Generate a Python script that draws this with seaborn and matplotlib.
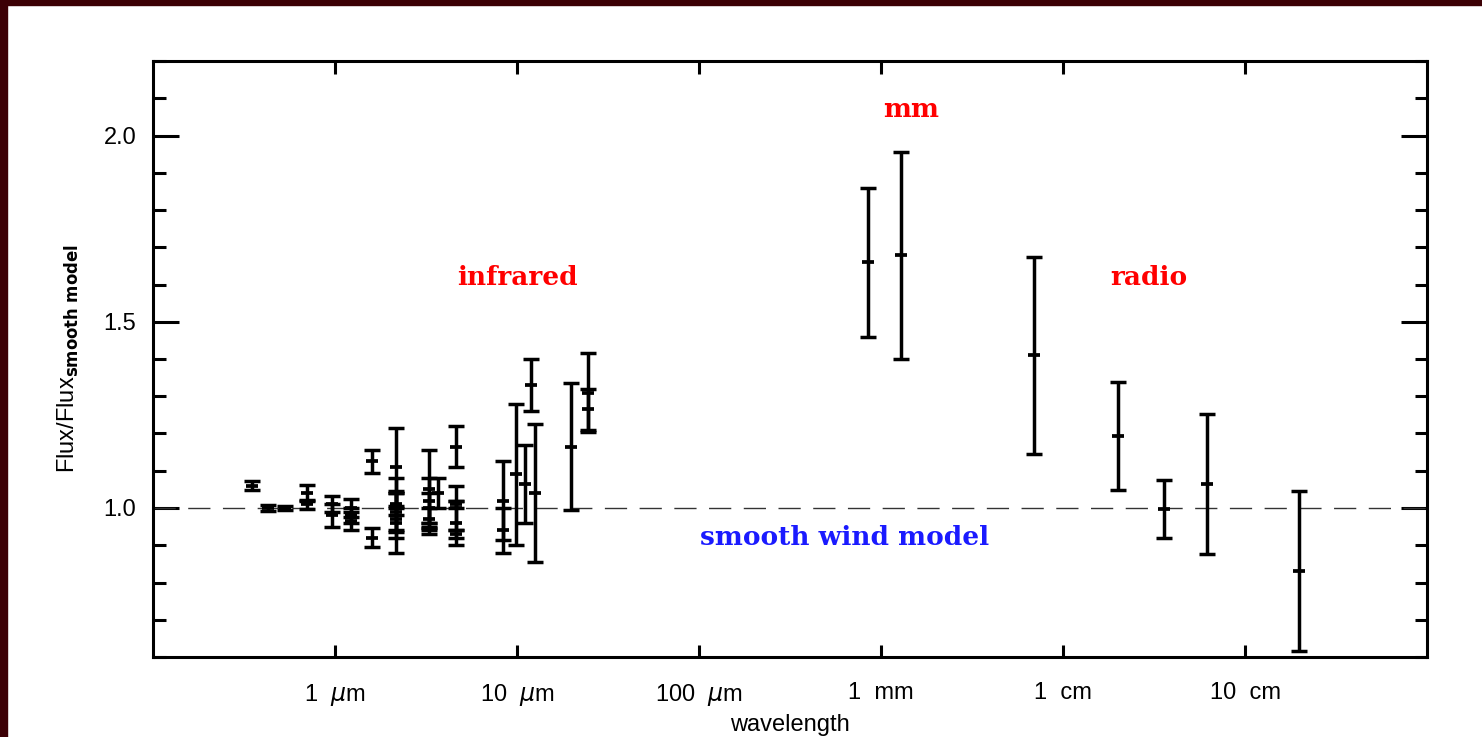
import matplotlib
matplotlib.use('Agg')
import matplotlib.pyplot as plt
import seaborn as sns
import pandas as pd
from matplotlib.patches import Rectangle
from matplotlib.ticker import FixedLocator, MultipleLocator, NullLocator

# wavelength in micron, flux ratio to the smooth wind model, 1-sigma error
wavelength = [0.35, 0.43, 0.53, 0.70, 0.70, 0.96, 0.96, 1.22, 1.22, 1.22,
              1.6, 1.6, 2.17, 2.17, 2.17, 2.17, 2.17, 2.17,
              3.3, 3.3, 3.3, 3.3, 3.3, 3.7,
              4.6, 4.6, 4.6, 4.6, 4.6,
              8.4, 8.4, 9.9, 11.1, 11.9, 12.5, 19.7, 24.7, 24.7,
              850, 1290,
              6900, 20000, 36000, 62000, 198000]
ratio = [1.06, 1.00, 1.00, 1.04, 1.01, 1.01, 0.98, 1.00, 0.98, 0.965,
         1.125, 0.92, 1.11, 1.00, 0.97, 1.01, 0.96, 0.99,
         1.05, 1.02, 1.00, 0.97, 0.94, 1.04,
         1.165, 1.00, 0.96, 1.01, 0.93,
         1.02, 0.94, 1.09, 1.065, 1.33, 1.04, 1.165, 1.31, 1.265,
         1.66, 1.678,
         1.41, 1.193, 0.997, 1.064, 0.83]
error = [0.012, 0.007, 0.005, 0.022, 0.012, 0.022, 0.03, 0.025, 0.02, 0.025,
         0.03, 0.025, 0.105, 0.08, 0.03, 0.03, 0.08, 0.055,
         0.105, 0.06, 0.04, 0.03, 0.01, 0.04,
         0.055, 0.06, 0.06, 0.01, 0.01,
         0.105, 0.06, 0.19, 0.105, 0.07, 0.185, 0.17, 0.105, 0.055,
         0.2, 0.278,
         0.265, 0.145, 0.078, 0.188, 0.215]

tick_pos = [1, 10, 100, 1e3, 1e4, 1e5]
tick_lab = [r'1  $\mu$m', r'10  $\mu$m', r'100  $\mu$m', '1  mm', '1  cm', '10  cm']

df = pd.DataFrame({'wavelength': wavelength, 'ratio': ratio, 'error': error})

sns.set_style('ticks')
plt.rcParams['font.family'] = ['Liberation Sans', 'DejaVu Sans']

fig = plt.figure(figsize=(14.82, 7.37), dpi=100)
fig.patch.set_facecolor('white')
# dark slide frame along the top and left edges
fig.patches.append(Rectangle((0, 0), 7 / 1482, 1, transform=fig.transFigure,
                             color='#3c0005', zorder=0))
fig.patches.append(Rectangle((0, 1 - 5 / 737), 1, 5 / 737, transform=fig.transFigure,
                             color='#3c0005', zorder=0))

ax = fig.add_axes([153 / 1482, 80 / 737, 1274 / 1482, 596 / 737])

ax.errorbar(df['wavelength'], df['ratio'], yerr=df['error'], fmt='none',
            ecolor='black', elinewidth=2.5, capsize=5.5, capthick=2.5, zorder=3)
sns.scatterplot(data=df, x='wavelength', y='ratio', marker='_', s=85,
                color='black', linewidth=2.7, ax=ax, zorder=4, legend=False)

ax.axhline(1.0, color='#333333', lw=1.0, dashes=(16, 9), zorder=1)

ax.set_xscale('log')
ax.set_xlim(0.1, 1e6)
ax.set_ylim(0.6, 2.2)
ax.xaxis.set_major_locator(FixedLocator(tick_pos))
ax.xaxis.set_minor_locator(NullLocator())
ax.set_xticklabels(tick_lab)
ax.yaxis.set_major_locator(FixedLocator([1.0, 1.5, 2.0]))
ax.yaxis.set_minor_locator(MultipleLocator(0.1))

ax.tick_params(axis='both', which='both', direction='in', top=True, right=True,
               width=2.2, labelsize=17, colors='black')
ax.tick_params(axis='x', which='major', length=9, pad=18)
ax.tick_params(axis='y', which='major', length=19, pad=12)
ax.tick_params(axis='y', which='minor', length=9)
for s in ax.spines.values():
    s.set_linewidth(2.2)
    s.set_color('black')

ax.set_xlabel('wavelength', fontsize=17, labelpad=4, color='black')
ax.set_ylabel(r'Flux/Flux$_{\mathbf{smooth\ model}}$', fontsize=17, labelpad=16,
              color='black')

lab = dict(fontsize=19, fontweight='bold', family='DejaVu Serif', ha='center', va='center')
ax.text(10, 1.62, 'infrared', color='red', **lab)
ax.text(1470, 2.07, 'mm', color='red', **lab)
ax.text(29500, 1.62, 'radio', color='red', **lab)
ax.text(630, 0.92, 'smooth wind model', color='#1a1aff', **lab)

fig.savefig('out.png', dpi=100, facecolor=fig.get_facecolor())
